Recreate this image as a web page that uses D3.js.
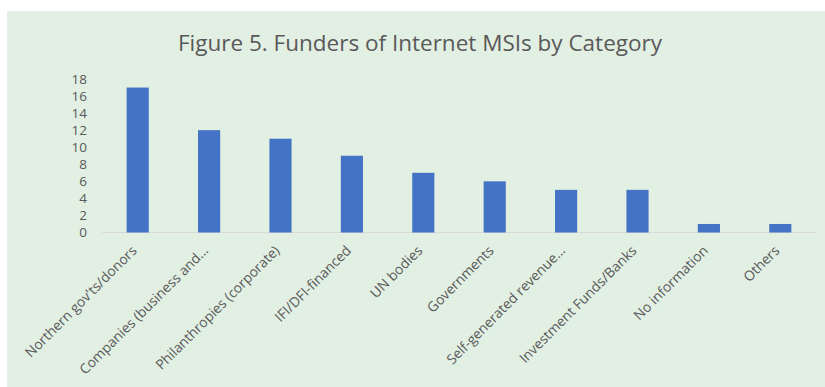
<!DOCTYPE html>
<html><head><meta charset="utf-8">
<script src="https://cdn.jsdelivr.net/npm/d3@7"></script>
<style>html,body{margin:0;padding:0;background:#fff;}svg{display:block;}</style>
</head><body>
<script>
const categories = ["Northern gov'ts/donors","Companies (business and…","Philanthropies (corporate)","IFI/DFI-financed","UN bodies","Governments","Self-generated revenue…","Investment Funds/Banks","No information","Others"];
const values = [17,12,11,9,7,6,5,5,1,1];
const yTicks = [0,2,4,6,8,10,12,14,16,18];
const title = "Figure 5. Funders of Internet MSIs by Category";

const W = 825, H = 387;
const svg = d3.select("body").append("svg").attr("width", W).attr("height", H);
svg.append("rect").attr("x",7).attr("y",11).attr("width",W-7).attr("height",H-11).attr("fill","#E2EFE3");

const font = "'Open Sans', 'DejaVu Sans', sans-serif";
svg.append("text").attr("x",420).attr("y",51).attr("text-anchor","middle")
  .attr("font-family",font).attr("font-size",22.5).attr("fill","#595959").text(title);

const x = d3.scaleBand().domain(categories).range([102,816]).paddingInner(0.69).paddingOuter(0.345);
const y = d3.scaleLinear().domain([0,18]).range([232.5,79]);

svg.append("line").attr("x1",102).attr("x2",816).attr("y1",y(0)).attr("y2",y(0)).attr("stroke","#D9D9D9").attr("stroke-width",1);

svg.selectAll("rect.bar").data(values).join("rect").attr("class","bar")
  .attr("x",(d,i)=>x(categories[i])).attr("width",x.bandwidth())
  .attr("y",d=>y(d)).attr("height",d=>y(0)-y(d)).attr("fill","#4472C4");

const yAxis = d3.axisLeft(y).tickValues(yTicks).tickSize(0).tickPadding(0);
const ga = svg.append("g").attr("transform","translate(87,0)").call(yAxis);
ga.select(".domain").remove();
ga.selectAll("text").attr("font-family",font).attr("font-size",13.5).attr("fill","#595959");

const xAxis = d3.axisBottom(x).tickSize(0).tickPadding(0);
const gx = svg.append("g").attr("transform",`translate(0,${y(0)})`).call(xAxis);
gx.select(".domain").remove();
gx.selectAll("text").attr("font-family",font).attr("font-size",13.8).attr("fill","#595959")
  .attr("text-anchor","end").attr("dy",0).attr("y",0)
  .attr("transform","translate(0,19) rotate(-45)");
</script>
</body></html>
